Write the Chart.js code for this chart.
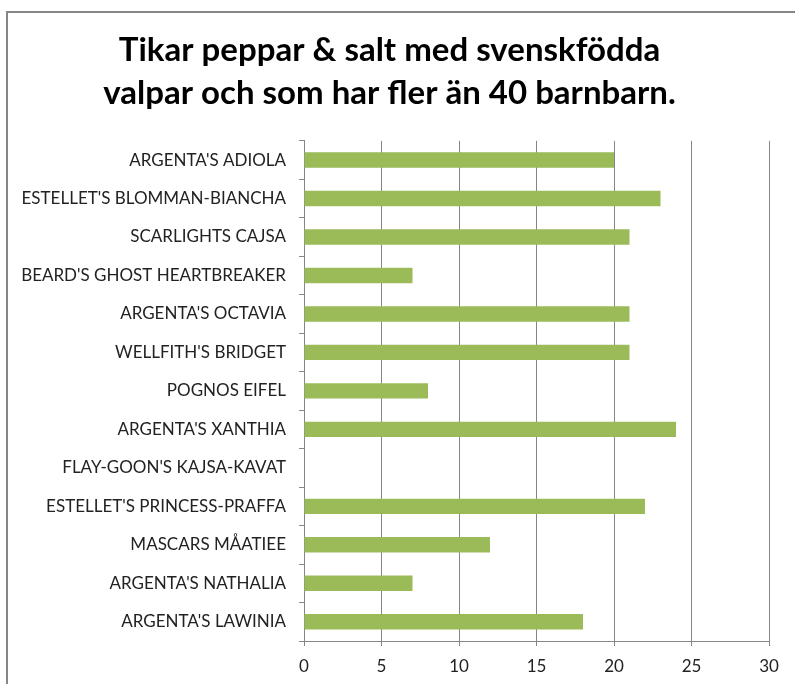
<!DOCTYPE html>
<html><head><meta charset="utf-8">
<script src="https://cdn.jsdelivr.net/npm/chart.js@4/dist/chart.umd.min.js"></script>
<style>html,body{margin:0;padding:0;background:#fff;}#wrap{position:relative;width:795px;height:684px;}</style>
</head><body><div id="wrap"><canvas id="c" width="795" height="684"></canvas></div>
<script>
const categories = ["ARGENTA'S ADIOLA","ESTELLET'S BLOMMAN-BIANCHA","SCARLIGHTS CAJSA","BEARD'S GHOST HEARTBREAKER","ARGENTA'S OCTAVIA","WELLFITH'S BRIDGET","POGNOS EIFEL","ARGENTA'S XANTHIA","FLAY-GOON'S KAJSA-KAVAT","ESTELLET'S PRINCESS-PRAFFA","MASCARS MÅATIEE","ARGENTA'S NATHALIA","ARGENTA'S LAWINIA"];
const values = [20,23,21,7,21,21,8,24,0,22,12,7,18];
const titleLines = ["Tikar peppar & salt med svenskfödda","valpar och som har fler än 40 barnbarn."];
const xMin = 0, xMax = 30, xStep = 5;

const borderPlugin = {
  id:'border',
  beforeDraw(chart){
    const ctx = chart.ctx;
    ctx.save();
    ctx.fillStyle='#fff';ctx.fillRect(0,0,chart.width,chart.height);
    ctx.strokeStyle='#868686';ctx.lineWidth=2;
    ctx.strokeRect(7,12,chart.width+10,chart.height+10);
    ctx.restore();
  }
};

new Chart(document.getElementById('c'),{
  type:'bar',
  data:{labels:categories,datasets:[{data:values,backgroundColor:'#9BBB59',borderWidth:0,categoryPercentage:1,barPercentage:0.4}]},
  options:{
    indexAxis:'y',responsive:false,animation:false,
    layout:{padding:{left:10,right:26,top:0,bottom:0}},
    plugins:{legend:{display:false},tooltip:{enabled:false},
      title:{display:true,text:titleLines,color:'#000',font:{family:'Lato',size:33,weight:'bold',lineHeight:1.3},padding:{top:29,bottom:26}}},
    scales:{
      x:{min:xMin,max:xMax,ticks:{stepSize:xStep,color:'#222',font:{family:'Lato',size:17},padding:10},
        grid:{color:'#868686',tickLength:5,drawTicks:true},border:{color:'#868686'},
        afterFit(s){s.height=43;}},
      y:{ticks:{color:'#222',font:{family:'Lato',size:17},padding:13},
        grid:{drawOnChartArea:false,color:'#868686',tickLength:5,offset:true},border:{color:'#868686'},
        afterFit(s){s.width=294;}}
    }
  },
  plugins:[borderPlugin]
});
</script></body></html>
